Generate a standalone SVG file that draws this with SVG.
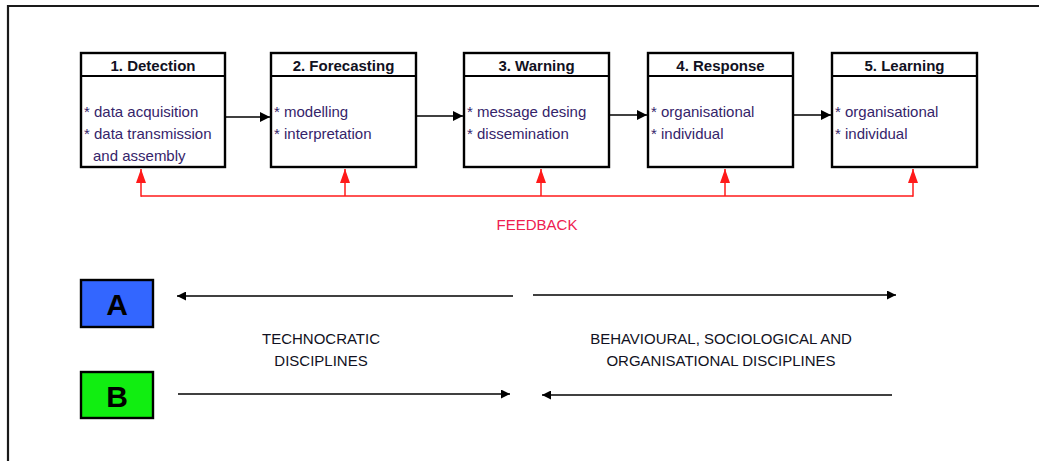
<svg xmlns="http://www.w3.org/2000/svg" width="1039" height="461" viewBox="0 0 1039 461">
  <style>
    .box { fill: #ffffff; stroke: #000000; stroke-width: 2.4; }
    .sep { stroke: #000000; stroke-width: 2; }
    .head { font-family: "Liberation Sans", Arial, sans-serif; font-size: 15px; font-weight: bold; fill: #111122; text-anchor: middle; }
    .body { font-family: "Liberation Sans", Arial, sans-serif; font-size: 15px; fill: #35246a; }
    .flow { stroke: #000000; stroke-width: 1.5; fill: none; }
    .fb { stroke: #ff1a1a; stroke-width: 1.5; fill: none; }
    .fbtext { font-family: "Liberation Sans", Arial, sans-serif; font-size: 15px; fill: #ee2050; text-anchor: middle; }
    .label { font-family: "Liberation Sans", Arial, sans-serif; font-size: 15px; fill: #111122; text-anchor: middle; }
    .key { stroke: #000000; stroke-width: 2.4; }
    .keytext { font-family: "Liberation Sans", Arial, sans-serif; font-size: 30px; font-weight: bold; fill: #000000; text-anchor: middle; }
  </style>
  <defs>
    <marker id="ah" viewBox="0 0 10 10" refX="10" refY="5" markerWidth="10" markerHeight="10" markerUnits="userSpaceOnUse" orient="auto">
      <path d="M0,0 L10,5 L0,10 z" fill="#000000"/>
    </marker>
    <marker id="ahr" viewBox="0 0 14 10" refX="14" refY="5" markerWidth="14" markerHeight="10" markerUnits="userSpaceOnUse" orient="auto">
      <path d="M0,0 L14,5 L0,10 z" fill="#ff1a1a"/>
    </marker>
    <marker id="ahs" viewBox="0 0 10 10" refX="10" refY="5" markerWidth="9" markerHeight="9" markerUnits="userSpaceOnUse" orient="auto">
      <path d="M0,0 L10,5 L0,10 z" fill="#000000"/>
    </marker>
  </defs>

  <rect x="0" y="0" width="1039" height="461" fill="#ffffff"/>
  <!-- outer frame (top and left edges) -->
  <path d="M8,461 L8,6 L1039,6" fill="none" stroke="#1a1a1a" stroke-width="2.2"/>

  <!-- stage nodes -->
  <g id="detection">
    <rect class="box" x="81" y="53" width="144" height="114"/>
    <line class="sep" x1="81" y1="76" x2="225" y2="76"/>
    <text class="head" x="153" y="71">1. Detection</text>
    <text class="body" x="84" y="117">* data acquisition</text>
    <text class="body" x="84" y="139">* data transmission</text>
    <text class="body" x="93" y="161">and assembly</text>
  </g>
  <g id="forecasting">
    <rect class="box" x="271" y="53" width="145" height="114"/>
    <line class="sep" x1="271" y1="76" x2="416" y2="76"/>
    <text class="head" x="343.5" y="71">2. Forecasting</text>
    <text class="body" x="274" y="117">* modelling</text>
    <text class="body" x="274" y="139">* interpretation</text>
  </g>
  <g id="warning">
    <rect class="box" x="464" y="53" width="145" height="114"/>
    <line class="sep" x1="464" y1="76" x2="609" y2="76"/>
    <text class="head" x="536.5" y="71">3. Warning</text>
    <text class="body" x="467" y="117">* message desing</text>
    <text class="body" x="467" y="139">* dissemination</text>
  </g>
  <g id="response">
    <rect class="box" x="648" y="53" width="145" height="114"/>
    <line class="sep" x1="648" y1="76" x2="793" y2="76"/>
    <text class="head" x="720.5" y="71">4. Response</text>
    <text class="body" x="651" y="117">* organisational</text>
    <text class="body" x="651" y="139">* individual</text>
  </g>
  <g id="learning">
    <rect class="box" x="832" y="53" width="145" height="114"/>
    <line class="sep" x1="832" y1="76" x2="977" y2="76"/>
    <text class="head" x="904.5" y="71">5. Learning</text>
    <text class="body" x="835" y="117">* organisational</text>
    <text class="body" x="835" y="139">* individual</text>
  </g>

  <!-- key nodes -->
  <g id="key-a">
    <rect class="key" x="81" y="280" width="72" height="47" fill="#3366ff"/>
    <text class="keytext" x="117" y="315">A</text>
  </g>
  <g id="key-b">
    <rect class="key" x="81" y="372" width="72" height="46" fill="#11ee11"/>
    <text class="keytext" x="117" y="407">B</text>
  </g>

  <!-- discipline labels -->
  <g id="technocratic">
    <text class="label" x="321" y="344">TECHNOCRATIC</text>
    <text class="label" x="321" y="366">DISCIPLINES</text>
  </g>
  <g id="behavioural">
    <text class="label" x="721" y="344">BEHAVIOURAL, SOCIOLOGICAL AND</text>
    <text class="label" x="721" y="366">ORGANISATIONAL DISCIPLINES</text>
  </g>

  <!-- feedback label -->
  <g id="feedback">
    <text class="fbtext" x="537" y="230">FEEDBACK</text>
  </g>

  <!-- connectors -->
  <g id="connectors">
    <!-- stage to stage -->
    <line class="flow" x1="226" y1="117" x2="270" y2="117" marker-end="url(#ah)"/>
    <line class="flow" x1="417" y1="116" x2="463" y2="116" marker-end="url(#ah)"/>
    <line class="flow" x1="610" y1="115" x2="647" y2="115" marker-end="url(#ah)"/>
    <line class="flow" x1="794" y1="115" x2="831" y2="115" marker-end="url(#ah)"/>

    <!-- feedback loop -->
    <line class="fb" x1="141" y1="196" x2="913" y2="196"/>
    <line class="fb" x1="141" y1="196.75" x2="141" y2="169" marker-end="url(#ahr)"/>
    <line class="fb" x1="345" y1="196" x2="345" y2="169" marker-end="url(#ahr)"/>
    <line class="fb" x1="541" y1="196" x2="541" y2="169" marker-end="url(#ahr)"/>
    <line class="fb" x1="725" y1="196" x2="725" y2="169" marker-end="url(#ahr)"/>
    <line class="fb" x1="913" y1="196.75" x2="913" y2="169" marker-end="url(#ahr)"/>

    <!-- discipline direction arrows -->
    <line class="flow" x1="513" y1="296" x2="177" y2="296" marker-end="url(#ahs)"/>
    <line class="flow" x1="533" y1="295" x2="896" y2="295" marker-end="url(#ahs)"/>
    <line class="flow" x1="178" y1="394" x2="510" y2="394" marker-end="url(#ahs)"/>
    <line class="flow" x1="892" y1="395" x2="542" y2="395" marker-end="url(#ahs)"/>
  </g>
</svg>
